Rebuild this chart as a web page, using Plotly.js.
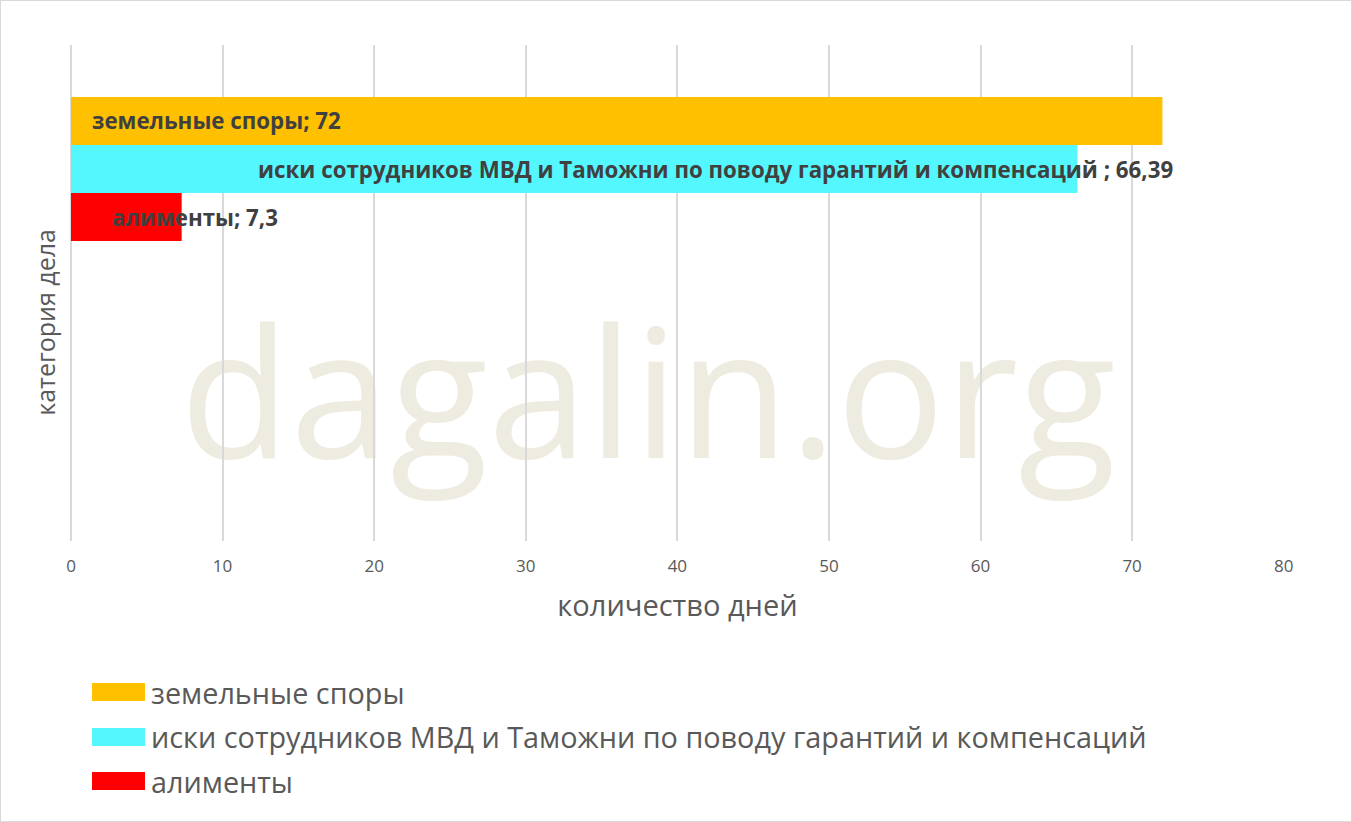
<!DOCTYPE html>
<html>
<head>
<meta charset="utf-8">
<script src="https://cdn.plot.ly/plotly-3.0.1.min.js"></script>
<style>
  body { margin: 0; background: #fff; }
  #wrap { position: relative; width: 1352px; height: 822px; overflow: hidden; }
  #wm {
    position: absolute; left: 180px; top: 299px;
    font-family: "Open Sans", sans-serif; font-size: 180px; color: #eeebe0;
    line-height: 1; white-space: nowrap;
  }
  #chart { position: absolute; left: 0; top: 0; width: 1352px; height: 822px; }
  #frame { position: absolute; left: 0; top: 0; width: 1352px; height: 822px;
    box-sizing: border-box; border: 1px solid #d9d9d9; pointer-events: none; }
</style>
</head>
<body>
<div id="wrap">
  <div id="wm">dagalin.org</div>
  <div id="chart"></div>
  <div id="frame"></div>
</div>
<script>
const seriesNames = [
    "земельные споры",
    "иски сотрудников МВД и Таможни по поводу гарантий и компенсаций",
    "алименты"
];
const dayCounts = [72, 66.39, 7.3];
const labelTexts = ["72", "66,39", "7,3"];
const barColors = ["#ffc000", "#55f7ff", "#ff0000"];

// where each data label starts, in days (labels were placed by hand in the original)
const labelStarts = [1.25, 12.2, 2.57];
const barSlots = [-0.194, 0, 0.194];

const traces = seriesNames.map((name, i) => ({
    type: "bar",
    orientation: "h",
    name: name,
    x: [dayCounts[i]],
    y: [0],
    marker: {color: barColors[i]},
    hoverinfo: "x+name",
    showlegend: false
}));

const labelFont = {family: "Open Sans, sans-serif", size: 22.3, color: "#404040", weight: "bold"};
const legendFont = {family: "Open Sans, sans-serif", size: 28.8, color: "#595959"};

let annotations = seriesNames.map((name, i) => ({
    x: labelStarts[i], y: barSlots[i], xref: "x", yref: "y",
    text: "<b>" + name + (i === 1 ? " " : "") + "; " + labelTexts[i] + "</b>",
    showarrow: false, xanchor: "left", yanchor: "middle",
    font: labelFont
}));

annotations.push({
    x: -0.0215, y: 0.442, xref: "paper", yref: "paper",
    text: "категория дела", textangle: -90, showarrow: false,
    xanchor: "center", yanchor: "middle",
    font: {family: "Open Sans, sans-serif", size: 25, color: "#595959"}
});

// legend drawn by hand so the swatches can be wide like the original
const legendRows = [683, 728, 772];
let shapes = [];
seriesNames.forEach((name, i) => {
    const yTop = 1 - (legendRows[i] - 45) / 496;
    const yBot = 1 - (legendRows[i] + 18 - 45) / 496;
    shapes.push({
        type: "rect", xref: "paper", yref: "paper",
        x0: (92 - 71) / 1213, x1: (145 - 71) / 1213, y0: yBot, y1: yTop,
        fillcolor: barColors[i], line: {width: 0}
    });
    annotations.push({
        x: (149 - 71) / 1213, y: (yTop + yBot) / 2, xref: "paper", yref: "paper",
        text: name, showarrow: false, xanchor: "left", yanchor: "middle",
        font: legendFont
    });
});

const layout = {
    width: 1352,
    height: 822,
    margin: {l: 71, r: 68, t: 45, b: 281},
    paper_bgcolor: "rgba(0,0,0,0)",
    plot_bgcolor: "rgba(0,0,0,0)",
    barmode: "group",
    bargap: 0.42,
    xaxis: {
        range: [0, 80.02],
        dtick: 10,
        showgrid: true,
        gridcolor: "#d9d9d9",
        gridwidth: 1.5,
        zeroline: true,
        zerolinecolor: "#d9d9d9",
        zerolinewidth: 1.5,
        showline: false,
        ticks: "",
        ticklabelstandoff: 13,
        tickfont: {family: "Open Sans, sans-serif", size: 17, color: "#595959"},
        title: {
            text: "количество дней",
            font: {family: "Open Sans, sans-serif", size: 29, color: "#595959"},
            standoff: 19
        }
    },
    yaxis: {
        range: [1.5, -0.5],
        showgrid: false,
        zeroline: false,
        showline: false,
        showticklabels: false,
        ticks: ""
    },
    annotations: annotations,
    shapes: shapes
};

Plotly.newPlot("chart", traces, layout, {displayModeBar: false, responsive: false});
</script>
</body>
</html>
